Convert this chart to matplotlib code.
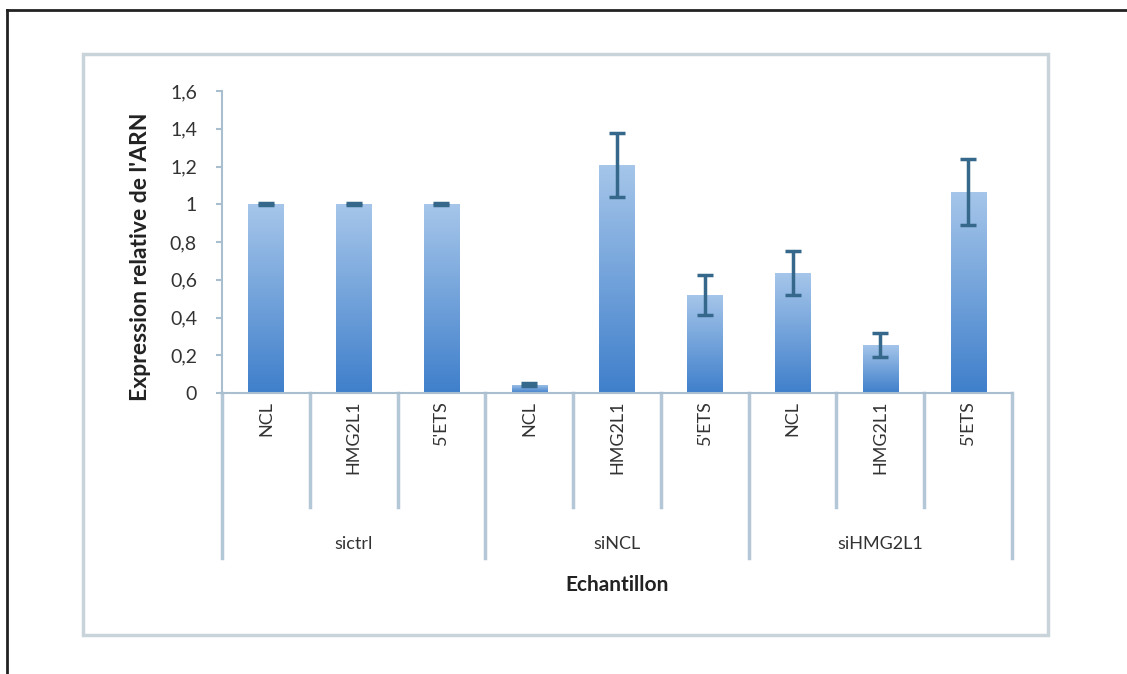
import numpy as np
import matplotlib
matplotlib.use("Agg")
import matplotlib.pyplot as plt
from matplotlib.patches import Rectangle
from matplotlib.lines import Line2D
from matplotlib.colors import LinearSegmentedColormap

groups = ["sictrl", "siNCL", "siHMG2L1"]
genes = ["NCL", "HMG2L1", "5'ETS"]
values = [1.0, 1.0, 1.0, 0.045, 1.21, 0.52, 0.635, 0.255, 1.065]
errors = [0.006, 0.006, 0.006, 0.008, 0.17, 0.105, 0.115, 0.065, 0.175]
yticks = [0, 0.2, 0.4, 0.6, 0.8, 1.0, 1.2, 1.4, 1.6]
ytick_labels = ["0", "0,2", "0,4", "0,6", "0,8", "1", "1,2", "1,4", "1,6"]

plt.rcParams['font.family'] = ['Lato', 'DejaVu Sans']
W, H = 1127, 674
fig = plt.figure(figsize=(W / 100, H / 100), dpi=100)

# outer frame (left and top visible)
fig.add_artist(Line2D([7 / W, 7 / W], [0, 1 - 10 / H], transform=fig.transFigure, color="#222222", lw=2))
fig.add_artist(Line2D([7 / W, 1], [1 - 10 / H, 1 - 10 / H], transform=fig.transFigure, color="#222222", lw=2))
# chart area border
fig.add_artist(Rectangle((83 / W, 1 - 635 / H), (1048 - 83) / W, (635 - 54) / H,
                         transform=fig.transFigure, fill=False, edgecolor="#c8d3da", lw=2.5))

ax = fig.add_axes([222 / W, 1 - 393 / H, (1012 - 222) / W, (393 - 91) / H])
n = len(values)
x = np.arange(n)

bars = ax.bar(x, values, width=0.4, color="#6a9fd8", zorder=2)
grad = np.linspace(0, 1, 256).reshape(-1, 1)
cmap = LinearSegmentedColormap.from_list("g", ["#3f7fcb", "#a6c6ea"])
for b in bars:
    bx, by = b.get_x(), b.get_y()
    bw, bh = b.get_width(), b.get_height()
    im = ax.imshow(grad, cmap=cmap, origin="lower", aspect="auto",
                   extent=(bx, bx + bw, by, by + bh), zorder=2.5)
    im.set_clip_path(b)
ax.set_xlim(-0.5, n - 0.5)
ax.set_ylim(0, 1.6)

ax.errorbar(x, values, yerr=errors, fmt="none", ecolor="#35688a", elinewidth=2.5,
            capsize=6, capthick=2.5, zorder=3)

for s in ["top", "right"]:
    ax.spines[s].set_visible(False)
ax.spines["left"].set_color("#a9bfcf")
ax.spines["bottom"].set_color("#a9bfcf")
ax.spines["left"].set_linewidth(1.5)
ax.spines["bottom"].set_linewidth(1.5)
ax.set_yticks(yticks)
ax.set_yticklabels(ytick_labels, fontsize=14, color="#333333")
ax.tick_params(axis="y", length=4, color="#a9bfcf", width=1.5, pad=14)
ax.set_xticks([])

ax.set_ylabel("Expression relative de l'ARN", fontsize=16.5, fontweight="bold",
              color="#222222")
ax.yaxis.set_label_coords(-0.09, 0.45)

trans = ax.get_xaxis_transform()
line_kw = dict(transform=trans, clip_on=False, color="#b3c7d6", lw=2.5)
for k in range(n + 1):
    pos = -0.5 + k
    if k % 3 == 0:
        ax.plot([pos, pos], [0, -0.546], **line_kw)
    else:
        ax.plot([pos, pos], [0, -0.377], **line_kw)

for i in range(n):
    ax.text(x[i], -0.025, genes[i % 3], transform=trans, rotation=90,
            ha="center", va="top", fontsize=13, color="#333333")
for g, name in enumerate(groups):
    ax.text(3 * g + 1, -0.50, name, transform=trans, ha="center", va="center",
            fontsize=13, color="#333333")
ax.text((n - 1) / 2, -0.636, "Echantillon", transform=trans, ha="center",
        va="center", fontsize=15, fontweight="bold", color="#222222")

fig.savefig("out.png", dpi=100)
